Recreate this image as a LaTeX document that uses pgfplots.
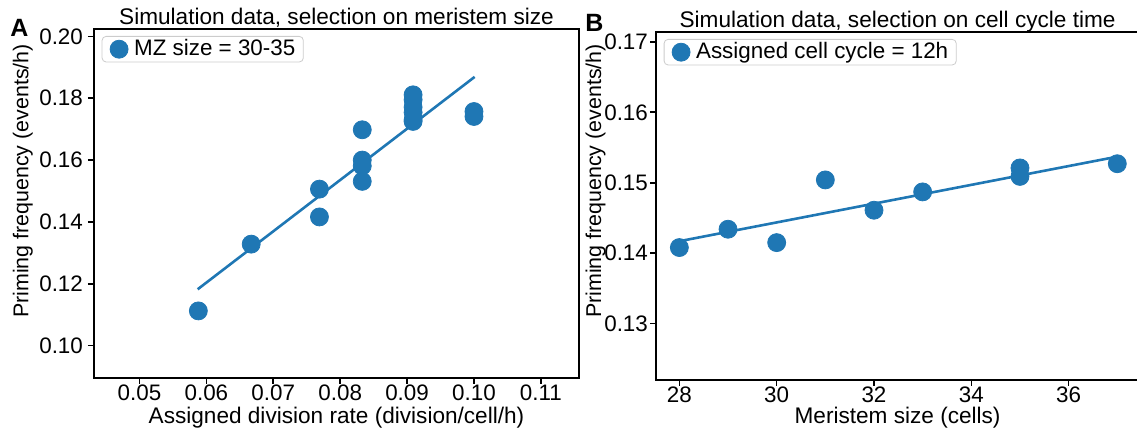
\documentclass[border=0pt]{standalone}
\usepackage{fontspec}
\setmainfont{Liberation Sans}
\usepackage{pgfplots}
\pgfplotsset{compat=1.18}
\definecolor{tabblue}{HTML}{1F77B4}

\begin{document}
\fontsize{11.2}{13}\selectfont
\begin{tikzpicture}
\path[use as bounding box] (0,0) rectangle (568.5pt,216pt);
\pgfplotsset{
 every axis title/.style={at={(0.5,1)}, anchor=base, yshift=2.4pt, font=\fontsize{11.3}{13}\selectfont},
 myaxis/.style={
  scale only axis,
  axis line style={line width=0.8pt},
  tick align=outside, major tick length=3pt,
  xtick pos=bottom, ytick pos=left,
  every tick/.style={black, line width=0.8pt},
  /pgf/number format/assume math mode=true,
  /pgf/number format/fixed, /pgf/number format/fixed zerofill, /pgf/number format/precision=2,
  scaled x ticks=false, scaled y ticks=false,
  font=\fontsize{11.2}{13}\selectfont,
  xlabel style={anchor=base, font=\fontsize{11.3}{13}\selectfont},
  ylabel style={anchor=base, font=\fontsize{10.7}{13}\selectfont},
  xticklabel style={anchor=base, yshift=-8.1pt},
  legend style={at={(0,1)}, anchor=north west, xshift=3.85pt, yshift=-3.5pt,
    draw=black!20, rounded corners=2pt, fill=white, inner xsep=4pt, inner ysep=1.5pt,
    nodes={inner sep=0pt}, column sep=3pt, font=\fontsize{11.2}{13}\selectfont},
  legend cell align=left,
  legend image code/.code={\draw[#1] plot coordinates {(4.5pt,0pt)};},
 },
 dots/.style={only marks, mark=*, mark size=4.5pt, color=tabblue, mark options={draw=tabblue, fill=tabblue}},
 fit/.style={no marks, color=tabblue, line width=1.3pt, forget plot},
}
\begin{axis}[myaxis,
  at={(47pt,27pt)}, anchor=south west, width=242.5pt, height=174.5pt,
  xmin=0.0432, xmax=0.1157, ymin=0.0895, ymax=0.2024,
  xtick={0.05,0.06,0.07,0.08,0.09,0.10,0.11},
  ytick={0.10,0.12,0.14,0.16,0.18,0.20},
  title={Simulation data, selection on meristem size},
  xlabel={Assigned division rate (division/cell/h)},
  ylabel={Priming frequency (events/h)},
  xlabel style={at={(axis description cs:0.5,-0.1318)}},
  ylabel style={at={(axis description cs:-0.1353,0.5645)}},
  yticklabel style={inner sep=2.35pt},
]
\addplot[dots] coordinates {
(0.0588,0.1112) (0.0667,0.1328) (0.0769,0.1506) (0.0769,0.1416)
(0.0833,0.1698) (0.0833,0.1600) (0.0833,0.1581) (0.0833,0.1531)
(0.0909,0.1811) (0.0909,0.1795) (0.0909,0.1771) (0.0909,0.1754) (0.0909,0.1730) (0.0909,0.1725)
(0.1000,0.1757) (0.1000,0.1741)
};
\addlegendentry{MZ size = 30-35}
\addplot[fit] coordinates {(0.0587,0.1182) (0.1001,0.1869)};
\end{axis}
\begin{axis}[myaxis,
  at={(328pt,26pt)}, anchor=south west, width=241.6pt, height=174pt,
  xmin=27.52, xmax=37.45, ymin=0.122, ymax=0.1714,
  xtick={28,30,32,34,36},
  ytick={0.13,0.14,0.15,0.16,0.17},
  xticklabel style={/pgf/number format/precision=0, /pgf/number format/fixed zerofill=false},
  title={Simulation data, selection on cell cycle time},
  xlabel={Meristem size (cells)},
  ylabel={Priming frequency (events/h)},
  xlabel style={at={(axis description cs:0.5,-0.1264)}},
  ylabel style={at={(axis description cs:-0.1138,0.5718)}},
  yticklabel style={inner sep=0.85pt},
]
\addplot[dots] coordinates {
(28,0.1408) (29,0.1434) (30,0.1415) (31,0.1504) (32,0.1461) (33,0.1487)
(35,0.1521) (35,0.1509) (37,0.1527)
};
\addlegendentry{Assigned cell cycle = 12h}
\addplot[fit] coordinates {(28,0.1417) (37,0.1537)};
\end{axis}
\node[anchor=base west, font=\bfseries\fontsize{12.5}{14}\selectfont, inner sep=0pt] at (5pt,197.75pt) {A};
\node[anchor=base west, font=\bfseries\fontsize{12.5}{14}\selectfont, inner sep=0pt] at (292.5pt,200pt) {B};
\end{tikzpicture}
\end{document}
